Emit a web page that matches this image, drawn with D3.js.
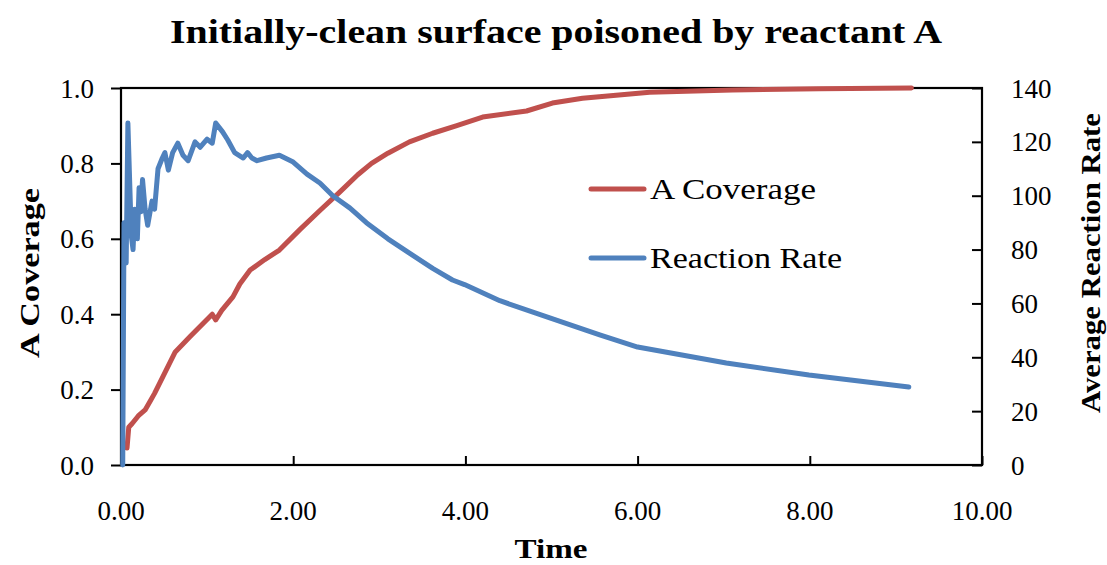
<!DOCTYPE html>
<html><head><meta charset="utf-8">
<script src="https://cdn.jsdelivr.net/npm/d3@7"></script>
<style>
body{margin:0;background:#fff;}
svg{display:block;}
text{font-family:"Liberation Serif","DejaVu Serif",serif;fill:#000;}
</style></head><body>
<svg id="c" width="1107" height="565"></svg>
<script>
// ---- data ----
const rateTime = [0.02,0.035,0.06,0.08,0.12,0.14,0.16,0.19,0.21,0.23,0.25,0.28,0.31,0.36,0.39,0.43,0.48,0.51,0.55,0.60,0.66,0.72,0.78,0.86,0.92,1.00,1.06,1.10,1.18,1.24,1.32,1.37,1.42,1.47,1.52,1.58,1.69,1.84,2.00,2.16,2.31,2.46,2.66,2.85,3.10,3.35,3.62,3.85,3.99,4.40,4.98,5.56,6.00,7.03,7.99,9.15];
const rateValues = [0,90,75,127,85,80,95,84,103,94,106,95,89,98,95,110,114,116,109.5,116,119.5,115,113,120,118,121,119.5,127,123.7,120.7,116,115,114,116,114,113,114,115,112.5,108,104.7,100,95.4,90,84,78.7,73,68.7,67,61,54.6,48.3,43.8,37.9,33.4,29];
const covTime = [0.07,0.09,0.13,0.20,0.28,0.34,0.39,0.51,0.63,0.80,1.06,1.10,1.17,1.30,1.38,1.50,1.67,1.84,2.08,2.31,2.54,2.75,2.91,3.10,3.35,3.62,3.90,4.20,4.71,5.01,5.36,6.14,7.10,8.11,9.18];
const covValues = [0.045,0.10,0.11,0.13,0.146,0.17,0.19,0.245,0.30,0.34,0.40,0.385,0.41,0.446,0.48,0.517,0.545,0.57,0.625,0.675,0.724,0.77,0.80,0.827,0.857,0.88,0.90,0.923,0.939,0.96,0.973,0.989,0.995,0.998,1.0];
const xTicks = [0,2,4,6,8,10];
const leftTicks = [0,0.2,0.4,0.6,0.8,1.0];
const rightTicks = [0,20,40,60,80,100,120,140];
const seriesNames = ["A Coverage","Reaction Rate"];
const titleText = "Initially-clean surface poisoned by reactant A";
const xTitle = "Time", yLeftTitle = "A Coverage", yRightTitle = "Average Reaction Rate";

// ---- layout ----
const L=121,R=982,T=88,B=465;
const RED="#C0504D", BLUE="#4F81BD";
const svg=d3.select("#c");
const x=d3.scaleLinear().domain([0,10]).range([L,R]);
const yL=d3.scaleLinear().domain([0,1]).range([B,T]);
const yR=d3.scaleLinear().domain([0,140]).range([B,T]);

function fit(sel,w){ sel.attr("textLength",w).attr("lengthAdjust","spacingAndGlyphs"); return sel;}

// frame
svg.append("rect").attr("x",L).attr("y",T).attr("width",R-L).attr("height",B-T)
  .attr("fill","none").attr("stroke","#000").attr("stroke-width",2.2);

// axes
const ax=svg.append("g").attr("transform",`translate(0,${B})`)
  .call(d3.axisTop(x).tickValues(xTicks).tickSize(9).tickFormat(""));
ax.select(".domain").remove();
ax.selectAll("line").attr("stroke","#000").attr("stroke-width",2);
svg.append("g").selectAll("text").data(xTicks).join("text")
  .attr("x",d=>x(d)).attr("y",520).attr("text-anchor","middle")
  .attr("font-size",27).text(d=>d3.format(".2f")(d));

const al=svg.append("g").attr("transform",`translate(${L},0)`)
  .call(d3.axisLeft(yL).tickValues(leftTicks).tickSize(10).tickFormat(""));
al.select(".domain").remove();
al.selectAll("line").attr("stroke","#000").attr("stroke-width",2);
svg.append("g").selectAll("text").data(leftTicks).join("text")
  .attr("x",94).attr("y",d=>yL(d)+9.5).attr("text-anchor","end")
  .attr("font-size",27).text(d=>d3.format(".1f")(d));

const ar=svg.append("g").attr("transform",`translate(${R},0)`)
  .call(d3.axisLeft(yR).tickValues(rightTicks).tickSize(10).tickFormat(""));
ar.select(".domain").remove();
ar.selectAll("line").attr("stroke","#000").attr("stroke-width",2);
svg.append("g").selectAll("text").data(rightTicks).join("text")
  .attr("x",1011).attr("y",d=>yR(d)+9.5).attr("text-anchor","start")
  .attr("font-size",27).text(d=>d);

// lines
const covData=covTime.map((t,i)=>[t,covValues[i]]);
const rateData=rateTime.map((t,i)=>[t,rateValues[i]]);
svg.append("path").datum(covData)
  .attr("d",d3.line().x(d=>x(d[0])).y(d=>yL(d[1])))
  .attr("fill","none").attr("stroke",RED).attr("stroke-width",5).attr("stroke-linejoin","round").attr("stroke-linecap","round");
svg.append("path").datum(rateData)
  .attr("d",d3.line().x(d=>x(d[0])).y(d=>yR(d[1])))
  .attr("fill","none").attr("stroke",BLUE).attr("stroke-width",5).attr("stroke-linejoin","round").attr("stroke-linecap","round");

// legend
const leg=[{n:seriesNames[0],c:RED,y:189,w:166},{n:seriesNames[1],c:BLUE,y:258,w:192}];
leg.forEach(l=>{
  svg.append("line").attr("x1",591).attr("x2",644).attr("y1",l.y).attr("y2",l.y)
    .attr("stroke",l.c).attr("stroke-width",5).attr("stroke-linecap","round");
  fit(svg.append("text").attr("x",650).attr("y",l.y+10).attr("font-size",29).text(l.n),l.w);
});

// titles
fit(svg.append("text").attr("x",556).attr("y",43).attr("text-anchor","middle")
  .attr("font-size",33).attr("font-weight","bold").text(titleText),772);
fit(svg.append("text").attr("x",551).attr("y",558).attr("text-anchor","middle")
  .attr("font-size",27).attr("font-weight","bold").text(xTitle),73);
fit(svg.append("text").attr("transform","translate(39,273) rotate(-90)").attr("text-anchor","middle")
  .attr("font-size",28).attr("font-weight","bold").text(yLeftTitle),170);
fit(svg.append("text").attr("transform","translate(1100,263) rotate(-90)").attr("text-anchor","middle")
  .attr("font-size",28).attr("font-weight","bold").text(yRightTitle),300);
</script>
</body></html>
